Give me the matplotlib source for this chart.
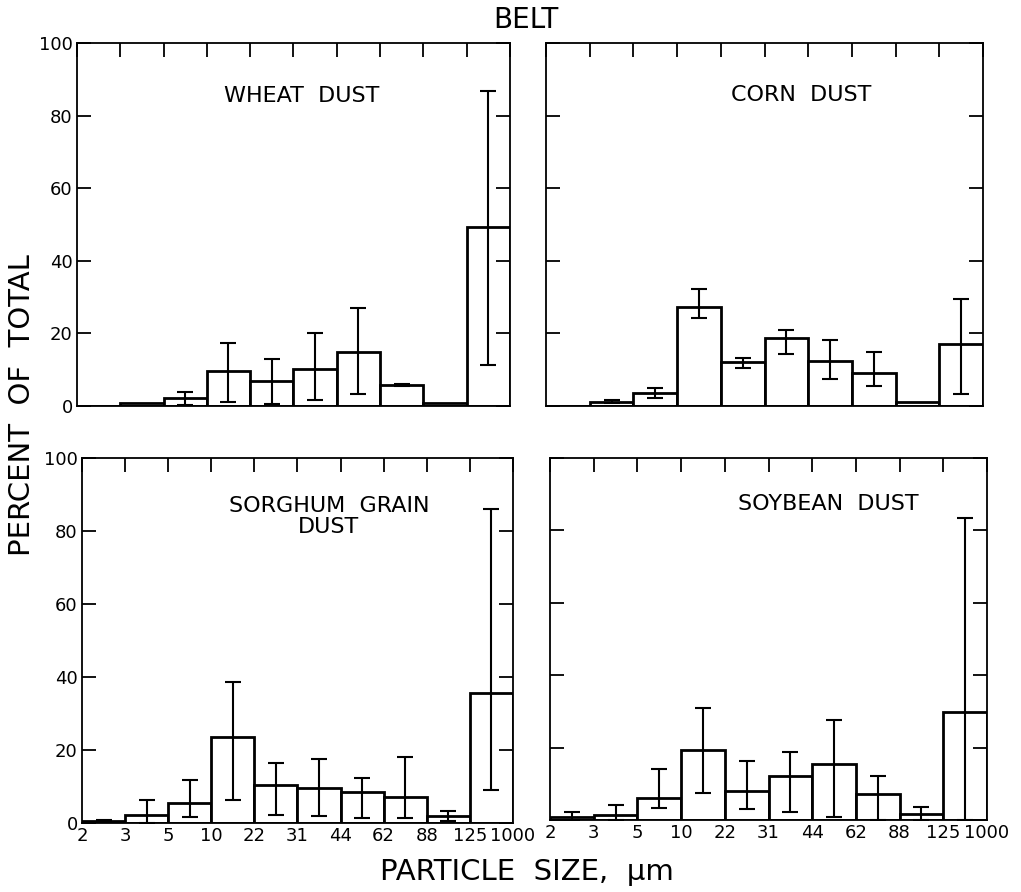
import numpy as np
import matplotlib
matplotlib.use('Agg')
from matplotlib import pyplot as plt

edges = ['2', '3', '5', '10', '22', '31', '44', '62', '88', '125', '1000']
nan = np.nan

# percent of total per size bin, plus the lower / upper ends of the error bars
wheat = [0, 0.9, 2.1, 9.7, 7.0, 10.2, 14.9, 5.8, 0.8, 49.2]
wheat_lo = [nan, nan, 0.2, 1.0, 0.6, 1.8, 3.3, 5.4, nan, 11.3]
wheat_hi = [nan, nan, 4.0, 17.4, 12.9, 20.0, 27.1, 6.2, nan, 86.9]

corn = [0, 1.2, 3.5, 27.4, 12.2, 18.7, 12.5, 9.0, 1.2, 17.2]
corn_lo = [nan, 0.8, 2.3, 24.2, 10.4, 14.2, 7.4, 5.5, nan, 3.4]
corn_hi = [nan, 1.8, 4.9, 32.2, 13.1, 21.0, 18.2, 15.0, nan, 29.6]

sorghum = [0.6, 2.1, 5.5, 23.6, 10.5, 9.7, 8.5, 7.1, 1.8, 35.7]
sorghum_lo = [0.4, 0.0, 1.6, 6.4, 2.1, 2.0, 1.4, 1.4, 0.6, 9.0]
sorghum_hi = [0.9, 6.2, 11.7, 38.7, 16.5, 17.4, 12.2, 18.1, 3.3, 86.0]

soybean = [0.7, 1.4, 6.2, 19.2, 8.1, 12.2, 15.4, 7.1, 1.7, 29.7]
soybean_lo = [0.0, 0.0, 3.2, 7.4, 3.0, 2.1, 0.9, 0.0, 0.0, 0.0]
soybean_hi = [2.3, 4.1, 14.0, 30.9, 16.3, 18.9, 27.6, 12.2, 3.5, 83.4]

titles = ['WHEAT  DUST', 'CORN  DUST', 'SORGHUM  GRAIN\nDUST', 'SOYBEAN  DUST']
title_pos = [(0.52, 0.855), (0.583, 0.858), (0.573, 0.84), (0.636, 0.872)]

panels = [(wheat, wheat_lo, wheat_hi), (corn, corn_lo, corn_hi),
          (sorghum, sorghum_lo, sorghum_hi), (soybean, soybean_lo, soybean_hi)]

# axes rectangles in figure fraction (left, bottom, width, height)
rects = [[0.0754, 0.5448, 0.424, 0.407],
         [0.5348, 0.5448, 0.428, 0.407],
         [0.0803, 0.0774, 0.422, 0.409],
         [0.5387, 0.0807, 0.428, 0.406]]

plt.rcParams['font.family'] = ['DejaVu Sans']

fig = plt.figure(figsize=(10.21, 8.92), dpi=100)

for i in range(4):
    vals, lo, hi = panels[i]
    vals = np.array(vals, dtype=float)
    lo = np.array(lo, dtype=float)
    hi = np.array(hi, dtype=float)
    ax = fig.add_axes(rects[i])
    x = np.arange(len(vals))
    ax.bar(x, vals, width=1.0, align='edge', facecolor='white',
           edgecolor='black', linewidth=2.0)
    ok = ~np.isnan(lo)
    ax.errorbar(x[ok] + 0.5, vals[ok], yerr=[vals[ok] - lo[ok], hi[ok] - vals[ok]],
                fmt='none', ecolor='black', elinewidth=1.5, capsize=6, capthick=1.5)
    ax.set_xlim(0, 10)
    ax.set_ylim(0, 100)
    for s in ax.spines.values():
        s.set_linewidth(1.3)
    ax.set_xticks(range(11))
    ax.set_yticks(range(0, 101, 20))
    ax.tick_params(direction='in', length=10, width=1.3, top=True, right=True,
                   bottom=False, labelsize=13, pad=3)
    if i < 2:
        ax.tick_params(labelbottom=False)
    else:
        ax.set_xticklabels(edges)
    if i % 2 == 1:
        ax.tick_params(labelleft=False)
    ax.text(title_pos[i][0], title_pos[i][1], titles[i], transform=ax.transAxes,
            ha='center', va='center', fontsize=16, linespacing=1.1)

fig.text(0.515, 0.978, 'BELT', ha='center', va='center', fontsize=20)
fig.text(0.022, 0.546, 'PERCENT  OF  TOTAL', ha='center', va='center',
         rotation=90, fontsize=21)
fig.text(0.516, 0.022, 'PARTICLE  SIZE,  μm', ha='center', va='center', fontsize=21)

fig.savefig('out.png', dpi=100)
